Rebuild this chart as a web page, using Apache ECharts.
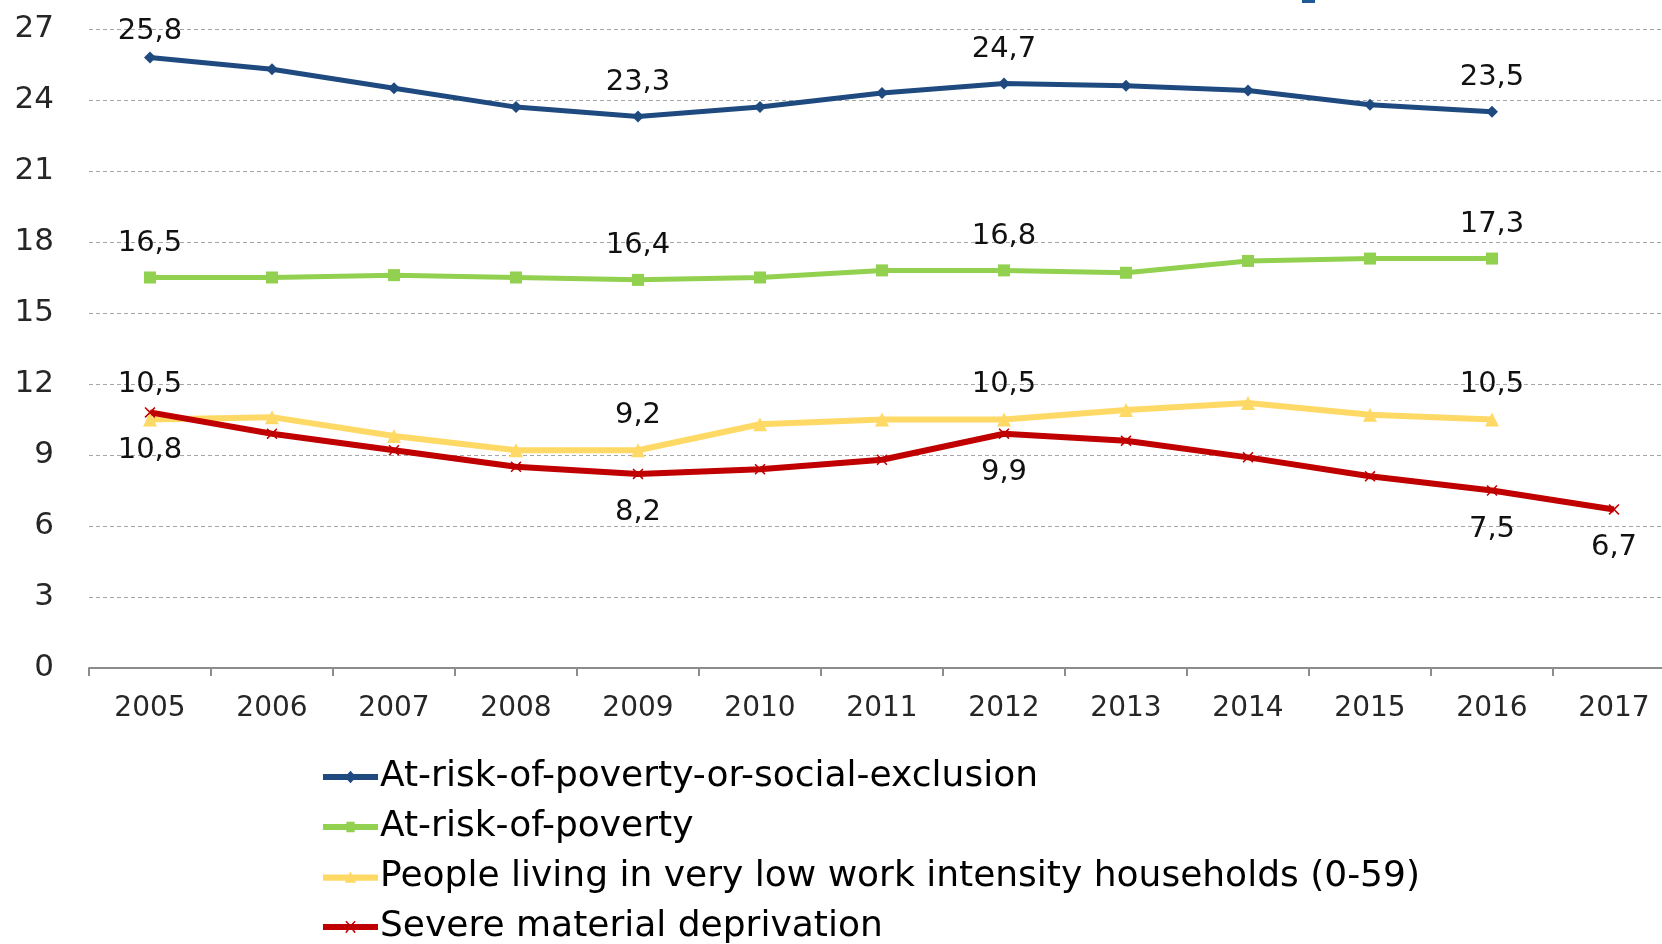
<!DOCTYPE html>
<html>
<head>
<meta charset="utf-8">
<script src="https://cdn.jsdelivr.net/npm/echarts@6/dist/echarts.min.js"></script>
<style>
  html, body { margin: 0; padding: 0; background: #ffffff; overflow: hidden; }
  /* the plot runs slightly past the right edge of the window, as the last year band is cut */
  #chart { width: 1675px; height: 944px; }
</style>
</head>
<body>
<div id="chart"></div>
<script>
// Years on the category axis
const years = ['2005', '2006', '2007', '2008', '2009', '2010', '2011', '2012', '2013', '2014', '2015', '2016', '2017'];

// Rates (%) per indicator
const aropeValues = [25.8, 25.3, 24.5, 23.7, 23.3, 23.7, 24.3, 24.7, 24.6, 24.4, 23.8, 23.5, null];
const povertyValues = [16.5, 16.5, 16.6, 16.5, 16.4, 16.5, 16.8, 16.8, 16.7, 17.2, 17.3, 17.3, null];
const lowWorkValues = [10.5, 10.6, 9.8, 9.2, 9.2, 10.3, 10.5, 10.5, 10.9, 11.2, 10.7, 10.5, null];
const deprivationValues = [10.8, 9.9, 9.2, 8.5, 8.2, 8.4, 8.8, 9.9, 9.6, 8.9, 8.1, 7.5, 6.7];

// Series names
const seriesNames = [
  'At-risk-of-poverty-or-social-exclusion',
  'At-risk-of-poverty',
  'People living in very low work intensity households (0-59)',
  'Severe material deprivation'
];

// Years whose values carry a label
const labelledYears = ['2005', '2009', '2012', '2016', '2017'];

const FONT = '"DejaVu Sans", sans-serif';
const colors = ['#1F4A7F', '#92D050', '#FFD966', '#C00000'];

// Marker shapes
const crossPath = 'path://M0,1L1,0L5,4L9,0L10,1L6,5L10,9L9,10L5,6L1,10L0,9L4,5Z';

// Legend icons: thick line with the series marker in the middle (55 x 14 box)
const barPart = 'M1,4L54,4L54,10L1,10Z';
const legendIcons = [
  'path://' + barPart + 'M27.5,1L33,7L27.5,13L22,7Z',
  'path://' + barPart + 'M23.5,2L31.5,2L31.5,12L23.5,12Z',
  'path://' + barPart + 'M27.5,1L33,12L22,12Z',
  'path://' + barPart + 'M22.5,2L23.5,1L27.5,5L31.5,1L32.5,2L28.5,6L32.5,12L31.5,13L27.5,8L23.5,13L22.5,12L26.5,6Z'
];

function fmt(v) { return String(v).replace('.', ','); }

function buildData(values, special) {
  return values.map((v, i) => {
    if (v === null) return null;
    const show = labelledYears.indexOf(years[i]) >= 0;
    const item = { value: v, label: { show: show } };
    if (special && special[i]) Object.assign(item.label, special[i]);
    return item;
  });
}

const labelBase = (position, distance) => ({
  position: position,
  distance: distance,
  fontFamily: FONT,
  fontSize: 29,
  lineHeight: 30,
  color: '#111111',
  formatter: p => fmt(p.value)
});

function lineSeries(idx, values, symbol, size, width, labelPos, special) {
  const color = colors[idx];
  return {
    name: seriesNames[idx],
    type: 'line',
    data: buildData(values, special),
    color: color,
    symbol: symbol,
    symbolSize: size,
    showAllSymbol: true,
    lineStyle: { width: width, color: color },
    itemStyle: { color: color },
    label: labelBase(labelPos, labelPos === 'top' ? 13 : 18),
    emphasis: { disabled: true },
    z: 3
  };
}

// One legend block per row, stacked under the plot
const legendRowCenters = [772, 822, 872, 922];
const legends = seriesNames.map((name, i) => ({
  orient: 'vertical',
  left: 318,
  top: legendRowCenters[i] - 20,
  itemWidth: 55,
  itemHeight: 14,
  itemGap: 0,
  selectedMode: false,
  textStyle: { fontFamily: FONT, fontSize: 36, lineHeight: 40, color: '#000000', padding: [0, 0, 0, -3] },
  data: [{ name: name, icon: legendIcons[i] }]
}));

const chart = echarts.init(document.getElementById('chart'), null, { renderer: 'canvas' });

chart.setOption({
  animation: false,
  backgroundColor: '#ffffff',
  grid: { left: 89, top: 29, right: 0, bottom: 276, containLabel: false },
  xAxis: {
    type: 'category',
    data: years,
    boundaryGap: true,
    axisLine: { lineStyle: { color: '#8c8c8c', width: 2 } },
    axisTick: { show: true, length: 8, lineStyle: { color: '#8c8c8c', width: 2 } },
    axisLabel: { fontFamily: FONT, fontSize: 28, color: '#262626', margin: 27 },
    splitLine: { show: false }
  },
  yAxis: {
    type: 'value',
    min: 0,
    max: 27,
    interval: 3,
    axisLine: { show: false },
    axisTick: { show: false },
    axisLabel: { fontFamily: FONT, fontSize: 31, color: '#262626', margin: 35 },
    splitLine: { lineStyle: { color: '#a6a6a6', width: 1, type: [4, 3] } }
  },
  legend: legends,
  graphic: [
    { type: 'rect', shape: { x: 1302, y: 0, width: 13, height: 3 }, style: { fill: '#1f5a96' } }
  ],
  series: [
    lineSeries(0, aropeValues, 'diamond', 12, 5, 'top', { 0: { distance: 5 } }),
    lineSeries(1, povertyValues, 'rect', 12, 5, 'top'),
    lineSeries(2, lowWorkValues, 'triangle', 14, 6, 'top'),
    lineSeries(3, deprivationValues, crossPath, 11, 6, 'bottom')
  ]
});
</script>
</body>
</html>
